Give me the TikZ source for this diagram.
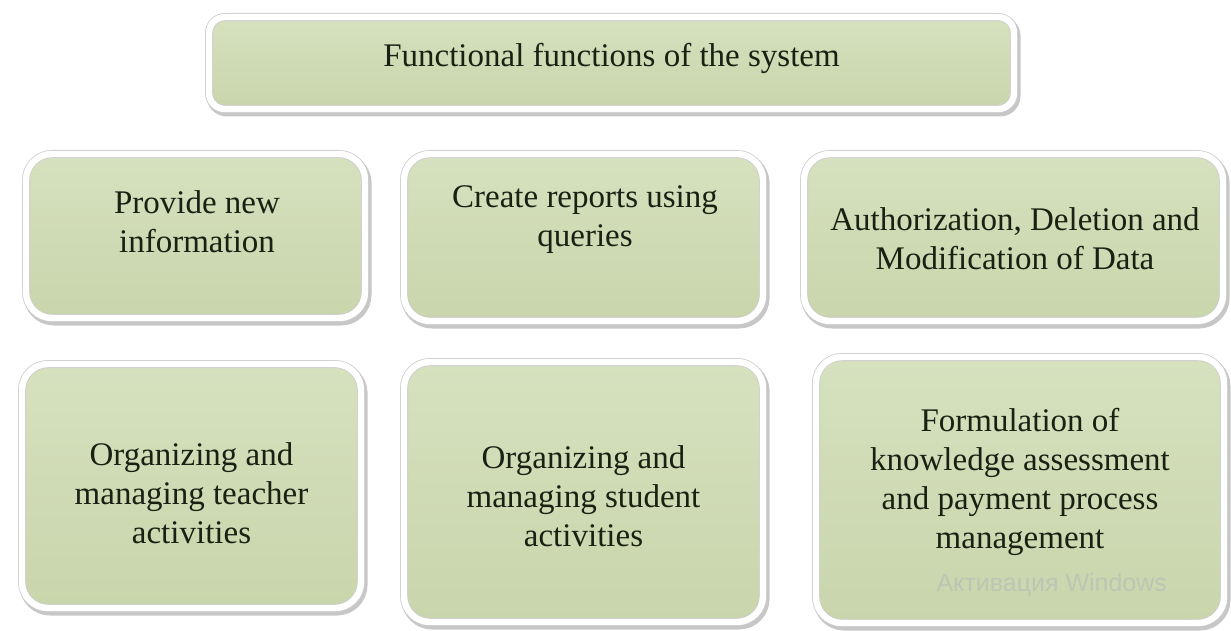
\documentclass[tikz,border=0pt]{standalone}
\usepackage{fontspec}
\setmainfont{Liberation Serif}
\newfontfamily\wmfont{Liberation Sans}
\usetikzlibrary{shadows}

\definecolor{boxtop}{RGB}{214,225,191}
\definecolor{boxbot}{RGB}{201,213,171}
\definecolor{boxtext}{RGB}{26,32,18}
\definecolor{wmgray}{RGB}{190,197,180}

\begin{document}
\begin{tikzpicture}[x=1pt,y=-1pt,
  funcbox/.style={rectangle,rounded corners=26pt,top color=boxtop,bottom color=boxbot,
    draw=black!20,line width=0.8pt,double=white,double distance=6.4pt,
    drop shadow={shadow xshift=2pt,shadow yshift=-3pt,opacity=.22,fill=black,draw=black,line width=9pt}},
  functext/.style={text=boxtext,align=center,font=\fontsize{33}{39}\selectfont}]
\useasboundingbox (0,0) rectangle (1231,631);

% boxes
\node[funcbox,rounded corners=16pt,minimum width=805pt,minimum height=92pt] (title) at (611.5,63) {};
\node[funcbox,minimum width=339pt,minimum height=164pt] (newinfo) at (195.5,236) {};
\node[funcbox,minimum width=359pt,minimum height=167pt] (reports) at (583.5,237.5) {};
\node[funcbox,minimum width=419pt,minimum height=167pt] (authdata) at (1013.5,237.5) {};
\node[funcbox,minimum width=339pt,minimum height=244pt] (teacher) at (191.5,486) {};
\node[funcbox,minimum width=359pt,minimum height=260pt] (student) at (583.5,492) {};
\node[funcbox,minimum width=408pt,minimum height=266pt] (assess) at (1020,490) {};

% texts
\node[functext] (title-t) at (611.5,58) {Functional functions of the system};
\node[functext] (newinfo-t) at (197,222) {Provide new\\information};
\node[functext] (reports-t) at (585,220) {Create reports using\\queries};
\node[functext] (authdata-t) at (1015,239) {Authorization, Deletion and\\Modification of Data};
\node[functext] (teacher-t) at (191.5,493) {Organizing and\\managing teacher\\activities};
\node[functext] (student-t) at (583.5,496) {Organizing and\\managing student\\activities};
\node[functext] (assess-t) at (1020,482) {Formulation of\\knowledge assessment\\and payment process\\management};

\node[anchor=west,text=wmgray,font=\wmfont\fontsize{25}{30}\selectfont] (wm) at (933,585) {Активация Windows};
\end{tikzpicture}
\end{document}
